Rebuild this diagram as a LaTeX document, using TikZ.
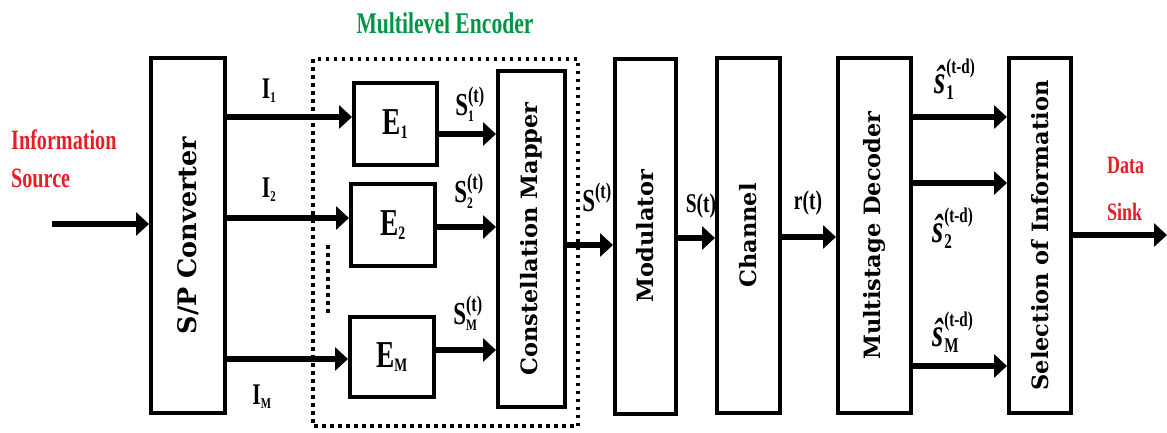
\documentclass[tikz,border=0pt]{standalone}
\usepackage{fontspec}
\usepackage{amsmath}
\usepackage{graphicx}
\setmainfont{Liberation Serif}[FakeStretch=0.72]
\newfontfamily\boxfont{DejaVu Serif}
\usetikzlibrary{positioning, calc, arrows.meta}

\definecolor{srcred}{RGB}{230,30,40}
\definecolor{encgreen}{RGB}{0,150,70}

\newcommand{\hats}{\text{\fontsize{40}{40}\selectfont\textit{\^{s}}}}

\begin{document}
\begin{tikzpicture}[
    x=1pt, y=-1pt,
    >={Triangle[length=13pt, width=23pt]},
    block/.style={draw, line width=4pt, inner sep=0pt,
        font=\boxfont\bfseries\fontsize{22.5}{24}\selectfont},
    tallbox/.style={block, minimum height=355pt},
    encbox/.style={block, minimum width=84pt, minimum height=82pt,
        font=\bfseries\fontsize{38}{40}\selectfont},
    arr/.style={->, line width=6pt},
    dotline/.style={line width=3.5pt, dash pattern=on 3.5pt off 4.5pt},
    lbl/.style={inner sep=0pt, font=\bfseries\fontsize{30}{32}\selectfont},
    tag/.style={inner sep=0pt, align=left, text=srcred,
        font=\bfseries\fontsize{28}{38}\selectfont}
]
\useasboundingbox (0,0) rectangle (1167,432);

% Define nodes
\node[tallbox, minimum width=74pt, font=\boxfont\bfseries\fontsize{25.5}{27}\selectfont] (SP) at (188,235.5) {\rotatebox{90}{S/P Converter}};
\node[encbox, minimum width=83pt] (E1) at (395.5,124) {E$_{\scriptscriptstyle\text{1}}$};
\node[encbox] (E2) at (393,225) {E$_{\scriptscriptstyle\text{2}}$};
\node[encbox, minimum height=80pt] (EM) at (392,357) {E$_{\scriptscriptstyle\text{M}}$};
\node[block, minimum width=67pt, minimum height=336pt] (CM) at (531.5,239) {\rotatebox{90}{Constellation Mapper}};
\node[tallbox, minimum width=61pt] (MOD) at (645.5,236) {\rotatebox{90}{Modulator}};
\node[tallbox, minimum width=63pt] (CH) at (748.5,235.5) {\rotatebox{90}{Channel}};
\node[tallbox, minimum width=73pt] (DEC) at (874.5,235.5) {\rotatebox{90}{Multistage Decoder}};
\node[tallbox, minimum width=62pt] (SEL) at (1040,235.5) {\rotatebox{90}{Selection of Information}};

% free ends
\coordinate (src) at (52,224);
\coordinate (sink) at (1167,235);

% encoder frame
\draw[dotline] (313,59) rectangle (578,426);
\draw[dotline] (328,245) -- (328,313);
\node[inner sep=0pt, text=encgreen, font=\bfseries\fontsize{30}{32}\selectfont] (ENC) at (445,23) {Multilevel Encoder};

% Main edges
\draw[arr] (src) -- (src -| SP.west);
\coordinate (i1) at ([yshift=7pt]E1.west);
\coordinate (i2) at ([yshift=7pt]E2.west);
\coordinate (iM) at ([yshift=-2pt]EM.west);
\draw[arr] (i1 -| SP.east) -- (i1);
\draw[arr] (i2 -| SP.east) -- (i2);
\draw[arr] (iM -| SP.east) -- (iM);

\coordinate (s1) at ([yshift=-10pt]E1.east);
\coordinate (s2) at ([yshift=-2pt]E2.east);
\coordinate (sM) at ([yshift=7pt]EM.east);
\draw[arr] (s1) -- (s1 -| CM.west);
\draw[arr] (s2) -- (s2 -| CM.west);
\draw[arr] (sM) -- (sM -| CM.west);

\coordinate (cm) at ([yshift=-6pt]CM.east);
\coordinate (mod) at ([yshift=-2pt]MOD.east);
\coordinate (ch) at ([yshift=-1.5pt]CH.east);
\draw[arr] (cm) -- (cm -| MOD.west);
\draw[arr] (mod) -- (mod -| CH.west);
\draw[arr] (ch) -- (ch -| DEC.west);

% Decoder outputs
\coordinate (d1) at ([yshift=118.5pt]DEC.east);
\coordinate (d2) at ([yshift=52.5pt]DEC.east);
\coordinate (dM) at ([yshift=-130.5pt]DEC.east);
\draw[arr] (d1) -- (d1 -| SEL.west);
\draw[arr] (d2) -- (d2 -| SEL.west);
\draw[arr] (dM) -- (dM -| SEL.west);
\draw[arr] (SEL.east |- sink) -- (sink);

% Labels
\node[tag, anchor=west] (info) at (11,159) {Information\\Source};
\node[tag, anchor=west, font=\bfseries\fontsize{25}{47}\selectfont] (data) at (1107,189) {Data\\Sink};
\node[lbl] (I1) at (269,91) {$\text{I}_{\scriptscriptstyle\text{1}}$};
\node[lbl] (I2) at (269,190) {$\text{I}_{\scriptscriptstyle\text{2}}$};
\node[lbl] (IM) at (262,397) {$\text{I}_{\scriptscriptstyle\text{M}}$};
\node[lbl, font=\bfseries\fontsize{32}{34}\selectfont] (S1) at (470,104) {$\text{S}_{\scriptscriptstyle\text{1}}^{\text{(t)}}$};
\node[lbl, font=\bfseries\fontsize{32}{34}\selectfont] (S2) at (469,191) {$\text{S}_{\scriptscriptstyle\text{2}}^{\text{(t)}}$};
\node[lbl, font=\bfseries\fontsize{32}{34}\selectfont] (SM) at (468,313) {$\text{S}_{\scriptscriptstyle\text{M}}^{\text{(t)}}$};
\node[lbl, font=\bfseries\fontsize{32}{34}\selectfont] (S) at (597,197) {$\text{S}^{\text{(t)}}$};
\node[lbl, font=\bfseries\fontsize{27}{30}\selectfont] (St) at (701,206) {S(t)};
\node[lbl, font=\bfseries\fontsize{27}{30}\selectfont] (rt) at (808,203) {r(t)};
\node[lbl] (h1) at (955,79) {$\hats_{\text{1}}^{\text{(t-d)}}$};
\node[lbl] (h2) at (953,228) {$\hats_{\text{2}}^{\text{(t-d)}}$};
\node[lbl] (hM) at (953,332) {$\hats_{\text{M}}^{\text{(t-d)}}$};

\end{tikzpicture}
\end{document}
